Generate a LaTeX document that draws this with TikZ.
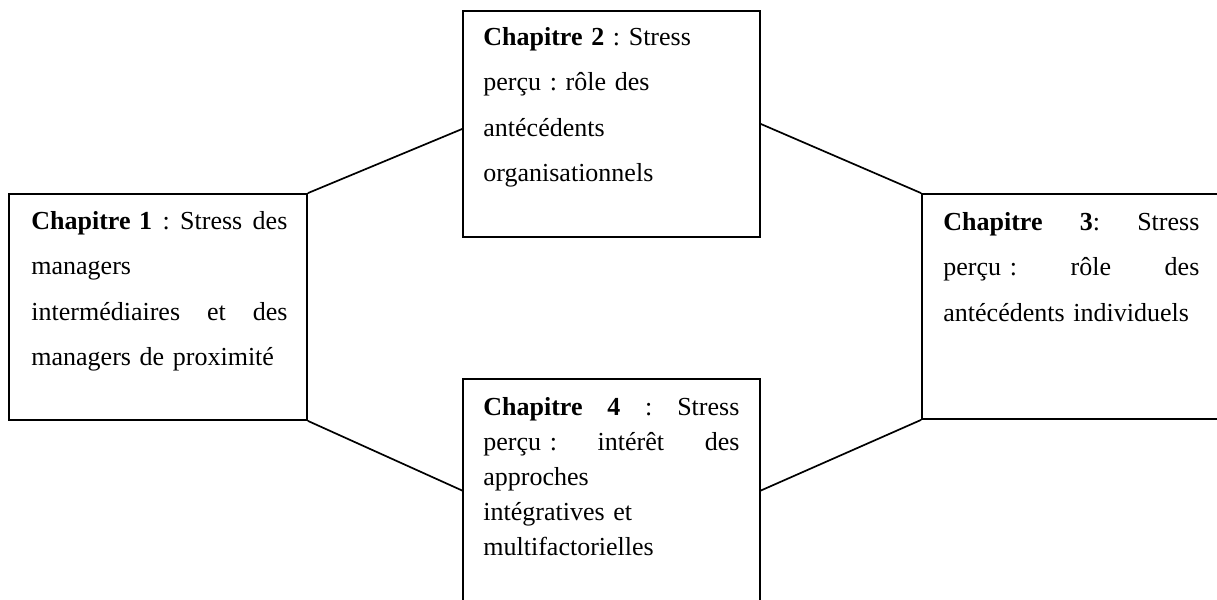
\documentclass[tikz,border=0pt]{standalone}
\usepackage{fontspec}
\setmainfont{Liberation Serif}
\newcommand{\jline}[1]{\leavevmode\hbox to 128pt{#1}}
\newcommand{\jsp}{\hskip 0.25em plus 1fil\relax}
\begin{document}
\begin{tikzpicture}[x=0.5pt,y=-0.5pt,
  box/.style={draw, line width=0.9pt, rectangle, inner sep=0pt},
  txt/.style={anchor=base west, inner sep=0pt, text width=128pt, align=left,
              font=\fontsize{13pt}{22.75pt}\selectfont\frenchspacing},
  txtb/.style={txt, font=\fontsize{13pt}{17.5pt}\selectfont\frenchspacing},
  link/.style={line width=0.85pt}]
\useasboundingbox (0,0) rectangle (1217,600);
\node[box, minimum width=149pt, minimum height=113pt] (b1) at (158,307) {};
\node[box, minimum width=148.5pt, minimum height=113pt] (b2) at (611.5,124) {};
\node[box, minimum width=148.5pt, minimum height=112.5pt] (b3) at (1070.5,306.5) {};
\node[box, minimum width=148.5pt, minimum height=111.5pt] (b4) at (611.5,490.5) {};

\node[txt] (t1) at (31,229) {\jline{\textbf{Chapitre 1}\jsp:\jsp Stress\jsp des}\\
managers\\
\jline{intermédiaires\jsp et\jsp des}\\
managers de proximité};

\node[txt] (t2) at (483,45) {\textbf{Chapitre 2} : Stress\\
perçu : rôle des\\
antécédents\\
organisationnels};

\node[txt] (t3) at (943,230) {\jline{\textbf{Chapitre\jsp 3}:\jsp Stress}\\
\jline{perçu :\jsp rôle\jsp des}\\
antécédents individuels};

\node[txtb] (t4) at (483,415) {\jline{\textbf{Chapitre\jsp 4}\jsp:\jsp Stress}\\
\jline{perçu :\jsp intérêt\jsp des}\\
approches\\
intégratives et\\
multifactorielles};

\draw[link] (b1.north east) -- ([yshift=-2.5pt]b2.west);
\draw[link] (b2.east) -- (b3.north west);
\draw[link] (b1.south east) -- (b4.west);
\draw[link] (b4.east) -- (b3.south west);
\end{tikzpicture}
\end{document}
